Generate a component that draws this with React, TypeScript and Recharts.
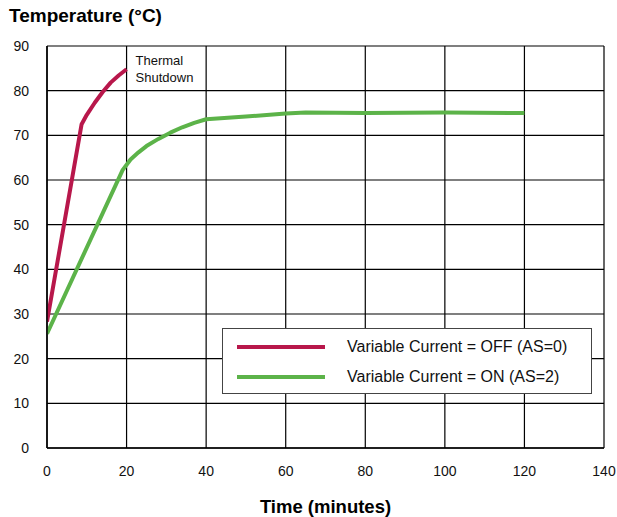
import React from 'react';
import { LineChart, Line, XAxis, YAxis, CartesianGrid, Legend, ReferenceDot } from 'recharts';

// temperature readings
const offTimes = [0, 8.7, 10, 12, 14, 16, 18, 20];
const offTemps = [28.3, 72.5, 74.6, 77.3, 79.7, 81.8, 83.4, 84.8];

const onTimes = [0, 19, 21, 23, 25, 28, 31, 34, 37, 40, 50, 60, 65, 80, 100, 120];
const onTemps = [25.6, 62.2, 64.6, 66.2, 67.6, 69.2, 70.6, 71.8, 72.8, 73.6, 74.2, 74.9, 75.1, 75, 75.1, 75];

const xTicks = [0, 20, 40, 60, 80, 100, 120, 140];
const yTicks = [0, 10, 20, 30, 40, 50, 60, 70, 80, 90];

const seriesNames = ['Variable Current = OFF (AS=0)', 'Variable Current = ON (AS=2)'];
const RED = '#b8174b';
const GREEN = '#5cb349';
const FONT = '"Liberation Sans", Arial, Helvetica, sans-serif';

const offData = offTimes.map((t, i) => ({ t, temp: offTemps[i] }));
const onData = onTimes.map((t, i) => ({ t, temp: onTemps[i] }));

const renderLegend = () => (
  <div
    style={{
      width: 368,
      height: 64,
      border: '1px solid #444',
      background: '#fff',
      position: 'relative',
      fontFamily: FONT,
      fontSize: 16,
      color: '#111',
    }}
  >
    {[RED, GREEN].map((c, i) => (
      <div key={i} style={{ position: 'absolute', left: 0, top: 8 + i * 30, height: 20, display: 'flex', alignItems: 'center' }}>
        <svg width={102} height={20}>
          <line x1={14} y1={10} x2={102} y2={10} stroke={c} strokeWidth={4} />
        </svg>
        <span style={{ marginLeft: 22, whiteSpace: 'nowrap' }}>{seriesNames[i]}</span>
      </div>
    ))}
  </div>
);

const shutdownLabel = (props: any) => {
  const { viewBox } = props;
  const x = viewBox.x + 9;
  const y = viewBox.y;
  return (
    <text x={x} y={y} fontFamily={FONT} fontSize={13} fill="#111">
      <tspan x={x} dy={-4}>Thermal</tspan>
      <tspan x={x} dy={17}>Shutdown</tspan>
    </text>
  );
};

export default function App() {
  return (
    <div style={{ position: 'absolute', left: 0, top: 0, width: 617, height: 517, background: '#fff', fontFamily: FONT }}>
      <div style={{ position: 'absolute', left: 9, top: 5, fontSize: 19, fontWeight: 'bold', color: '#000' }}>
        Temperature (°C)
      </div>
      <LineChart width={617} height={517} margin={{ top: 46, right: 13, left: 0, bottom: 0 }}>
        <CartesianGrid stroke="#000" strokeWidth={1.2} />
        <XAxis
          type="number"
          dataKey="t"
          domain={[0, 140]}
          ticks={xTicks}
          height={69}
          tickLine={false}
          tickSize={0}
          tickMargin={18}
          axisLine={{ stroke: '#000', strokeWidth: 1.5 }}
          tick={{ fill: '#111', fontSize: 14, fontFamily: FONT }}
          allowDataOverflow
          label={{ value: 'Time (minutes)', position: 'insideBottom', offset: 4, fill: '#000', fontSize: 18.5, fontWeight: 'bold', fontFamily: FONT }}
        />
        <YAxis
          type="number"
          domain={[0, 90]}
          ticks={yTicks}
          width={47}
          tickLine={false}
          tickSize={0}
          tickMargin={18}
          axisLine={{ stroke: '#000', strokeWidth: 1.5 }}
          tick={{ fill: '#111', fontSize: 14, fontFamily: FONT }}
        />
        <Legend
          layout="vertical"
          align="center"
          verticalAlign="middle"
          content={renderLegend}
          wrapperStyle={{ left: 222, top: 328, width: 370, height: 66 }}
        />
        <Line
          data={offData}
          dataKey="temp"
          type="linear"
          stroke={RED}
          strokeWidth={4}
          strokeLinejoin="round"
          dot={false}
          isAnimationActive={false}
        />
        <Line
          data={onData}
          dataKey="temp"
          type="linear"
          stroke={GREEN}
          strokeWidth={4}
          strokeLinejoin="round"
          dot={false}
          isAnimationActive={false}
        />
        <ReferenceDot x={20} y={84.8} r={0} fill="none" stroke="none" label={shutdownLabel} />
      </LineChart>
    </div>
  );
}
